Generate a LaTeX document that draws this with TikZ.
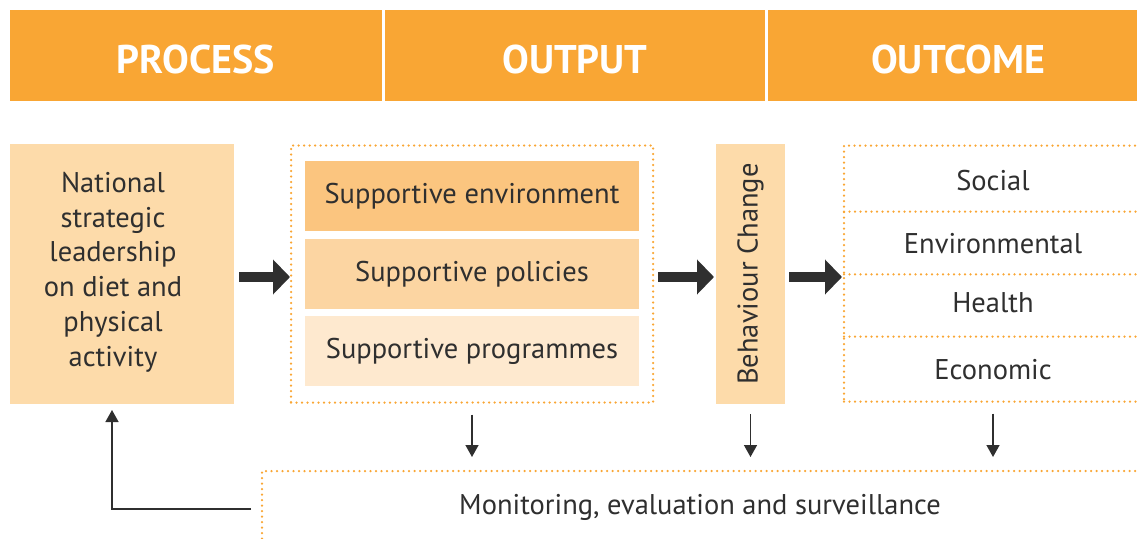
\documentclass[tikz,border=0pt]{standalone}
\usepackage{fontspec}
\setmainfont{PT Sans}
\usetikzlibrary{arrows.meta, positioning}
\definecolor{hdorange}{HTML}{F9A634}
\definecolor{boxlight}{HTML}{FDDBAA}
\definecolor{envfill}{HTML}{FBC57F}
\definecolor{polfill}{HTML}{FCD5A2}
\definecolor{progfill}{HTML}{FEE9CF}
\definecolor{inkgrey}{HTML}{2F2F2F}

\begin{document}
\begin{tikzpicture}[x=1pt, y=-1pt,
	every node/.style={inner sep=0pt, outer sep=0pt, text=inkgrey, font=\fontsize{28.5}{34.8}\selectfont},
	headbar/.style={fill=hdorange, minimum height=91pt, text=white, font=\fontsize{40}{44}\selectfont\bfseries, text height=36.4pt, text depth=0pt},
	panel/.style={fill=boxlight, minimum height=260pt},
	subbox/.style={minimum width=334pt, minimum height=70pt},
	dotline/.style={draw=hdorange, line width=2.5pt, line cap=round, dash pattern=on 0pt off 5.5pt},
	fatarrow/.style={-{Triangle[length=17pt, width=34pt]}, line width=10pt, draw=inkgrey},
	thinarrow/.style={-{Triangle[length=12pt, width=13pt]}, line width=1.5pt, draw=inkgrey}]
		\useasboundingbox (0,0) rectangle (1137,538);
		% header bar
		\node[headbar, minimum width=372pt] (hproc) at (196,55.5) {PROCESS};
		\node[headbar, minimum width=380pt] (hout) at (575,55.5) {OUTPUT};
		\node[headbar, minimum width=380pt] (houtc) at (958,55.5) {OUTCOME};
		% process, output, behaviour, outcome
		\node[panel, minimum width=224pt] (process) at (122,274) {};
		\node[align=center] (proctext) at (113,272) {National\\strategic\\leadership\\on diet and\\physical\\activity};
		\node[dotline, minimum width=362pt, minimum height=257pt] (output) at (472,274) {};
		\node[subbox, fill=envfill] (env) at (472,196) {Supportive environment};
		\node[subbox, fill=polfill] (pol) at (472,274) {Supportive policies};
		\node[subbox, fill=progfill] (prog) at (472,351) {Supportive programmes};
		\node[panel, minimum width=69pt] (behav) at (750.5,274) {\rotatebox{90}{Behaviour Change}};
		\node[dotline, minimum width=298pt, minimum height=256pt] (outcome) at (993,273.7) {};
		\draw[dotline] (844,211.7) -- (1142,211.7); \draw[dotline] (844,274.3) -- (1142,274.3); \draw[dotline] (844,336.7) -- (1142,336.7);
		\node (social) at (993,181) {Social};
		\node (envir) at (993,243.5) {Environmental};
		\node (health) at (993,302.7) {Health};
		\node (econ) at (993,369.5) {Economic};
		% monitoring
		\node[dotline, minimum width=898pt, minimum height=89pt] (mbox) at (711,515.5) {};
		\node (mtext) at (700,507) {Monitoring, evaluation and surveillance};
		% arrows
		\draw[fatarrow] ([shift={(5,3)}]process.east) -- ([shift={(-1,3)}]output.west);
		\draw[fatarrow] ([shift={(5,3)}]output.east) -- ([shift={(-2,3)}]behav.west);
		\draw[fatarrow] ([shift={(4,3)}]behav.east) -- ([shift={(-2,3.3)}]outcome.west);
		\draw[thinarrow, shorten <=12pt, shorten >=14pt] (output.south) -- (output.south |- mbox.north);
		\draw[thinarrow, shorten <=10pt, shorten >=14pt] (behav.south) -- (behav.south |- mbox.north);
		\draw[thinarrow, shorten <=12pt, shorten >=14pt] (outcome.south) -- (outcome.south |- mbox.north);
		\draw[thinarrow] ([shift={(-11,-6.5)}]mbox.west) -| ([shift={(-10,6)}]process.south);
	\end{tikzpicture}
\end{document}
